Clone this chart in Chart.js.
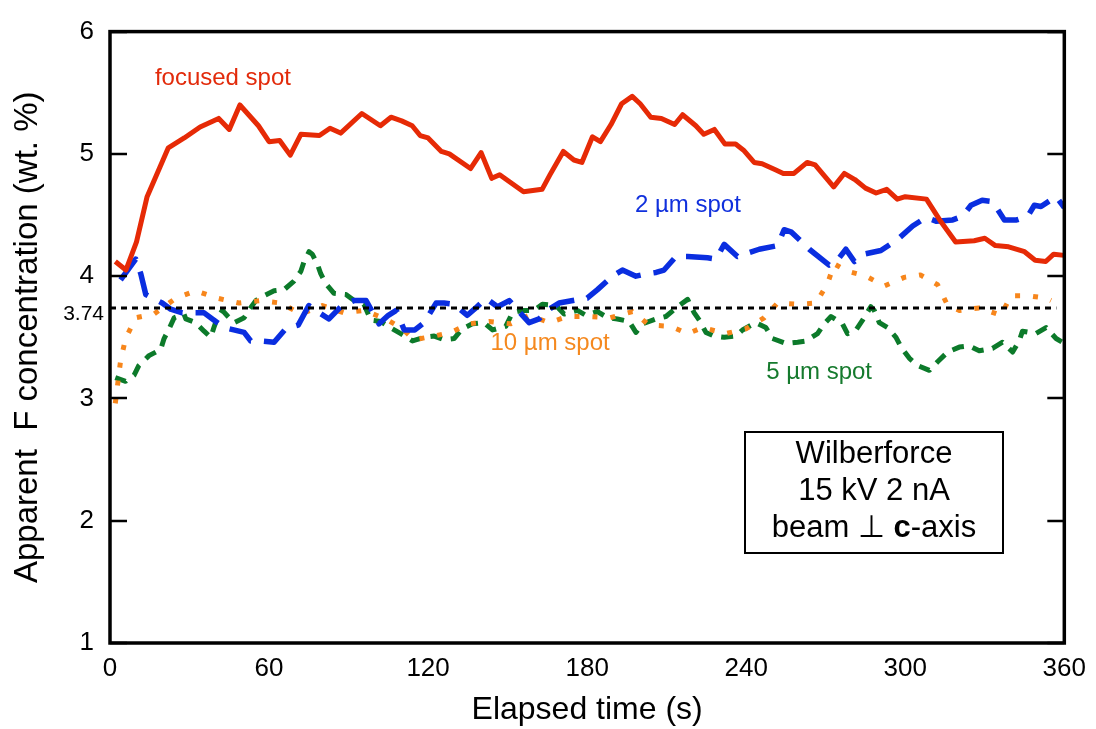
<!DOCTYPE html>
<html>
<head>
<meta charset="utf-8">
<script src="https://cdn.jsdelivr.net/npm/chart.js@4.4.1/dist/chart.umd.min.js"></script>
<style>
  body { margin: 0; background: #fff; }
  canvas { display: block; }
</style>
</head>
<body>
<canvas id="fChart" width="1096" height="729"></canvas>
<script>
// focused spot
const redT = [2, 6, 10, 14, 18, 22, 28, 34, 41, 45, 49, 56, 60, 64, 68, 72, 79, 83, 87, 95,
  102, 106, 110, 114, 117, 120, 125, 128, 136, 140, 144, 147, 156, 163, 166, 171, 175, 178, 182, 185,
  189, 193, 197, 200, 204, 208, 213, 216, 221, 224, 228, 232, 236, 239, 243, 246, 251, 254, 258, 263,
  266, 273, 277, 281, 285, 289, 293, 297, 300, 308, 313, 319, 326, 330, 334, 339, 345, 349, 353, 356, 360];
const redV = [4.12, 4.05, 4.28, 4.65, 4.85, 5.05, 5.13, 5.22, 5.29, 5.20, 5.40, 5.23, 5.10, 5.11, 4.99, 5.16, 5.15, 5.21, 5.17, 5.33,
  5.23, 5.30, 5.27, 5.23, 5.15, 5.13, 5.02, 5.00, 4.88, 5.01, 4.80, 4.83, 4.69, 4.71, 4.83, 5.02, 4.95, 4.93, 5.14, 5.10,
  5.24, 5.41, 5.47, 5.41, 5.30, 5.29, 5.24, 5.32, 5.23, 5.16, 5.20, 5.08, 5.08, 5.03, 4.93, 4.92, 4.87, 4.84, 4.84, 4.93,
  4.91, 4.73, 4.84, 4.79, 4.72, 4.68, 4.71, 4.63, 4.65, 4.63, 4.46, 4.28, 4.29, 4.31, 4.25, 4.24, 4.20, 4.13, 4.12, 4.18, 4.17];

// 2 µm spot
const blueT = [4, 9.7, 11.6, 13.5, 19.7, 22.9, 27.3, 35.5, 43, 50.6, 53.1, 56.9, 61.9, 66.3, 71, 75, 79, 82.6, 87.5, 92,
  96.6, 101.5, 105, 108, 111, 115, 118.5, 123, 126, 129.8, 134.8, 138, 141.8, 146.2, 150.6, 155.6, 158.1, 161.9, 165, 169.4,
  177, 180, 183.9, 189.5, 193.3, 198.4, 202.8, 206, 209, 213.5, 217.9, 225.4, 228.6, 231.7, 236.7, 244.9, 251.8, 254.3, 257.1, 260,
  263.8, 271.3, 274, 277.6, 280.8, 284.5, 290.8, 297.1, 302.8, 307.8, 311.6, 317.9, 321.6, 324.8, 329, 332.9, 337.4, 342, 346.2, 348.7,
  351.2, 356.9, 360];
const blueV = [3.97, 4.14, 4.02, 3.85, 3.78, 3.73, 3.70, 3.70, 3.58, 3.54, 3.47, 3.47, 3.46, 3.57, 3.60, 3.76, 3.70, 3.65, 3.76, 3.80,
  3.80, 3.61, 3.68, 3.72, 3.56, 3.56, 3.62, 3.78, 3.78, 3.77, 3.68, 3.74, 3.82, 3.75, 3.80, 3.68, 3.62, 3.65, 3.72, 3.78,
  3.81, 3.82, 3.89, 4.00, 4.05, 4.00, 4.02, 4.03, 4.05, 4.16, 4.16, 4.15, 4.14, 4.26, 4.16, 4.22, 4.25, 4.38, 4.36, 4.30,
  4.22, 4.09, 4.12, 4.22, 4.12, 4.18, 4.21, 4.30, 4.41, 4.48, 4.45, 4.46, 4.49, 4.58, 4.62, 4.61, 4.46, 4.46, 4.49, 4.58,
  4.57, 4.65, 4.56];

// 5 µm spot
const greenT = [2, 5.9, 9.1, 10.9, 14.7, 19.1, 20.4, 22.3, 24.2, 27.9, 28.6, 32.3, 35.5, 38, 39.2, 40.5, 42.4, 44.5, 46.8, 50.6,
  53, 55, 58.1, 61.9, 65.7, 69.4, 72, 73.2, 75.1, 76.3, 78.2, 79.5, 81.4, 84.5, 89, 92.1, 95.8, 98.4, 102.1, 106.5,
  109.7, 114.1, 118.5, 122.3, 126, 129.8, 132.9, 136.7, 141.1, 144.3, 149.3, 151.8, 155.6, 160, 163.1, 168.2, 171.3, 176.3, 179.5, 183.9,
  187.7, 191.4, 195.8, 198.4, 200.9, 205.9, 209.7, 214.1, 217.9, 220.4, 222.3, 224.8, 227.9, 231.7, 236.1, 238.6, 243.6, 247.4, 249.9, 255,
  259.4, 262.5, 266.9, 269.4, 272, 276.3, 278.2, 281.4, 283.9, 287, 288.3, 290.2, 293.3, 296.5, 298.4, 301.5, 304.6, 309.1, 312.2, 316,
  320.4, 324.2, 327.9, 332.9, 336.7, 340.5, 343, 344.2, 349.3, 353.1, 356.9, 360];
const greenV = [3.17, 3.14, 3.19, 3.27, 3.35, 3.40, 3.49, 3.57, 3.66, 3.69, 3.65, 3.62, 3.55, 3.50, 3.58, 3.66, 3.72, 3.67, 3.62, 3.66,
  3.74, 3.80, 3.84, 3.88, 3.89, 3.96, 4.04, 4.12, 4.20, 4.18, 4.10, 4.02, 3.94, 3.86, 3.85, 3.80, 3.77, 3.64, 3.63, 3.57,
  3.53, 3.47, 3.50, 3.51, 3.48, 3.49, 3.57, 3.61, 3.62, 3.56, 3.59, 3.70, 3.72, 3.72, 3.77, 3.76, 3.69, 3.72, 3.68, 3.71,
  3.66, 3.65, 3.63, 3.54, 3.61, 3.65, 3.67, 3.75, 3.81, 3.70, 3.64, 3.54, 3.51, 3.50, 3.51, 3.56, 3.62, 3.58, 3.49, 3.45,
  3.46, 3.47, 3.53, 3.61, 3.67, 3.61, 3.53, 3.56, 3.64, 3.75, 3.72, 3.62, 3.58, 3.50, 3.42, 3.33, 3.27, 3.23, 3.30, 3.38,
  3.42, 3.43, 3.39, 3.41, 3.46, 3.38, 3.47, 3.55, 3.53, 3.58, 3.49, 3.45];

// 10 µm spot
const orangeT = [2, 4, 5.9, 9.7, 16.6, 24.8, 32.3, 40.5, 48.7, 56.9, 64.4, 72, 80.1, 88.3, 95.8, 104, 110.3, 114.7, 122.3, 128.5,
  135.5, 143, 151.2, 158.1, 165.7, 172.6, 180.8, 188.7, 197.1, 203.4, 211.6, 217.9, 223.5, 232.3, 239.9, 246.8, 251.8, 259.4, 266.3, 270.7,
  273.2, 278.2, 285.2, 292.1, 299.6, 305.7, 312.2, 316, 320.4, 327.9, 336.1, 339.9, 346.2, 353.1, 355];
const orangeV = [2.96, 3.31, 3.49, 3.66, 3.69, 3.82, 3.88, 3.82, 3.78, 3.80, 3.78, 3.69, 3.76, 3.70, 3.72, 3.65, 3.57, 3.48, 3.51, 3.54,
  3.61, 3.63, 3.61, 3.68, 3.62, 3.67, 3.67, 3.66, 3.71, 3.60, 3.59, 3.53, 3.58, 3.53, 3.57, 3.66, 3.78, 3.77, 3.78, 3.94,
  4.10, 4.04, 4.00, 3.92, 3.99, 4.01, 3.93, 3.76, 3.72, 3.74, 3.68, 3.84, 3.84, 3.82, 3.80];

// mean reference line
const refT = [0, 357];
const refValue = 3.74;

const xTicks = [0, 60, 120, 180, 240, 300, 360];
const yTicks = [1, 2, 3, 4, 5, 6];

const FONT = "'Liberation Sans', Arial, Helvetica, sans-serif";

function pts(ts, vs) {
  return ts.map(function (t, i) { return { x: t, y: vs[i] }; });
}

// labels next to the curves, placed in data units
const seriesLabels = [
  { text: "focused spot", x: 42.6, y: 5.62, color: "#e22a0a" },
  { text: "2 µm spot", x: 218, y: 4.58, color: "#1030dd" },
  { text: "10 µm spot", x: 166, y: 3.45, color: "#f5891f" },
  { text: "5 µm spot", x: 267.5, y: 3.21, color: "#157a2d" },
];

const framePlugin = {
  id: "frame",
  afterDraw(chart) {
    const c = chart.ctx;
    const a = chart.chartArea;
    const ys = chart.scales.y;
    c.save();

    // inward ticks on both vertical sides
    c.strokeStyle = "#000";
    c.lineWidth = 2.5;
    yTicks.forEach(function (v) {
      const py = Math.round(ys.getPixelForValue(v));
      c.beginPath();
      c.moveTo(a.left, py); c.lineTo(a.left + 17, py);
      c.moveTo(a.right, py); c.lineTo(a.right - 17, py);
      c.stroke();
    });

    // frame
    c.lineWidth = 3.5;
    c.strokeRect(a.left, a.top, a.right - a.left, a.bottom - a.top);

    // 3.74 label
    c.fillStyle = "#000";
    c.font = "21px " + FONT;
    c.textAlign = "right";
    c.textBaseline = "middle";
    c.fillText("3.74", a.left - 6, ys.getPixelForValue(refValue) + 6);

    // curve labels
    c.font = "24px " + FONT;
    c.textAlign = "center";
    seriesLabels.forEach(function (l) {
      c.fillStyle = l.color;
      c.fillText(l.text, chart.scales.x.getPixelForValue(l.x), ys.getPixelForValue(l.y));
    });

    // info box
    const bx = 745, by = 432, bw = 258, bh = 121;
    c.fillStyle = "#fff";
    c.fillRect(bx, by, bw, bh);
    c.lineWidth = 2;
    c.strokeStyle = "#000";
    c.strokeRect(bx, by, bw, bh);
    const cx = bx + bw / 2;
    c.fillStyle = "#000";
    c.font = "31px " + FONT;
    c.textAlign = "center";
    c.fillText("Wilberforce", cx, by + 22);
    c.fillText("15 kV 2 nA", cx, by + 59);

    // third line with bold c
    const p1 = "beam \u22a5 ", p2 = "c", p3 = "-axis";
    const fn = "31px " + FONT, fb = "bold 31px " + FONT;
    c.font = fn; const w1 = c.measureText(p1).width; const w3 = c.measureText(p3).width;
    c.font = fb; const w2 = c.measureText(p2).width;
    let x0 = cx - (w1 + w2 + w3) / 2;
    const ly = by + 96;
    c.textAlign = "left";
    c.font = fn; c.fillText(p1, x0, ly);
    c.font = fb; c.fillText(p2, x0 + w1, ly);
    c.font = fn; c.fillText(p3, x0 + w1 + w2, ly);
    c.restore();
  },
};

new Chart(document.getElementById("fChart").getContext("2d"), {
  type: "line",
  data: {
    datasets: [
      { data: pts(refT, refT.map(function () { return refValue; })), borderColor: "#000", borderWidth: 3, borderDash: [6, 5], order: 0 },
      { data: pts(redT, redV), borderColor: "#e62a06", borderWidth: 5, order: 1 },
      { data: pts(blueT, blueV), borderColor: "#0a2ee0", borderWidth: 5.5, borderDash: [26, 13], order: 2 },
      { data: pts(orangeT, orangeV), borderColor: "#f7861c", borderWidth: 5, borderDash: [5, 13], order: 3 },
      { data: pts(greenT, greenV), borderColor: "#0c7a2a", borderWidth: 5, borderDash: [12, 9], order: 4 },
    ],
  },
  options: {
    responsive: false,
    animation: false,
    layout: { padding: { left: 0, right: 31, top: 23, bottom: 0 } },
    elements: {
      point: { radius: 0 },
      line: { tension: 0, borderCapStyle: "butt", borderJoinStyle: "round", fill: false },
    },
    plugins: {
      legend: { display: false },
      tooltip: { enabled: false },
    },
    scales: {
      x: {
        type: "linear",
        min: 0,
        max: 360,
        afterBuildTicks: function (s) { s.ticks = xTicks.map(function (v) { return { value: v }; }); },
        ticks: { color: "#000", font: { family: FONT, size: 26 }, padding: 10, maxRotation: 0 },
        grid: { display: false, drawTicks: false },
        border: { display: false },
        title: { display: true, text: "Elapsed time (s)", color: "#000", font: { family: FONT, size: 32 }, padding: { top: 0, bottom: 0 } },
        afterFit: function (s) { s.height = 86; },
      },
      y: {
        min: 1,
        max: 6,
        afterBuildTicks: function (s) { s.ticks = yTicks.map(function (v) { return { value: v }; }); },
        ticks: { color: "#000", font: { family: FONT, size: 26 }, padding: 16 },
        grid: { display: false, drawTicks: false },
        border: { display: false },
        title: { display: true, text: "Apparent  F concentration (wt. %)", color: "#000", font: { family: FONT, size: 33 }, padding: { top: 8, bottom: 0 } },
        afterFit: function (s) { s.width = 110; },
      },
    },
  },
  plugins: [framePlugin],
});
</script>
</body>
</html>
